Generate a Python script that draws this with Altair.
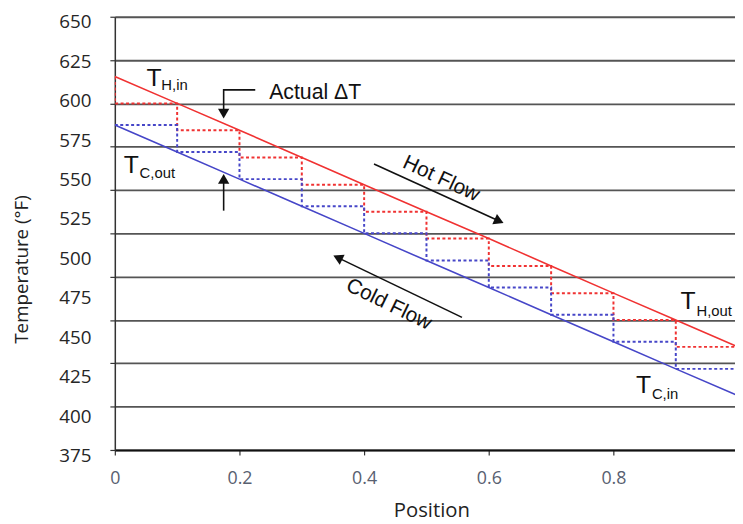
import altair as alt
import pandas as pd

# ---------------- data ----------------
positions = [0.0, 0.1, 0.2, 0.3, 0.4, 0.5, 0.6, 0.7, 0.8, 0.9, 1.0]
hot_temps = [615.5, 600.0, 584.5, 568.8, 553.0, 537.5, 522.0, 506.2, 490.5, 475.0, 459.5]
cold_temps = [587.5, 572.0, 556.3, 540.6, 525.0, 509.3, 493.8, 478.0, 462.5, 446.8, 431.3]

grid_values = [400, 425, 450, 475, 500, 525, 550, 575, 600, 625, 650]
label_values = [375, 400, 425, 450, 475, 500, 525, 550, 575, 600, 625, 650]
x_tick_values = [0, 0.2, 0.4, 0.6, 0.8]

# annotation texts (big "T" plus subscript)
sym_text = ["T", "T", "T", "T"]
sym_x = [0.0508, 0.0143, 0.9077, 0.8363]
sym_y = [610.0, 559.8, 481.1, 433.1]
sub_text = ["H,in", "C,out", "H,out", "C,in"]
sub_x = [0.0746, 0.0397, 0.9331, 0.8617]
sub_y = [607.8, 557.0, 477.6, 429.7]

flow_text = ["Hot Flow", "Cold Flow"]
flow_x = [0.5237, 0.4396]
flow_y = [556.4, 483.9]
flow_angle = [25, 26]

dt_text = ["Actual \u0394T"]
dt_x = [0.2476]
dt_y = [602.6]

# arrow shafts
arrow_id = ["down", "down", "down", "up", "up", "hot", "hot", "cold", "cold"]
arrow_ord = [0, 1, 2, 0, 1, 0, 1, 0, 1]
arrow_x = [0.2253, 0.1746, 0.1746, 0.1746, 0.1746, 0.4158, 0.6165, 0.5570, 0.3577]
arrow_y = [607.8, 607.8, 594.0, 538.1, 556.0, 565.0, 532.1, 476.5, 511.0]

# arrow heads
head_x = [0.1746, 0.1746, 0.6165, 0.3577]
head_y = [594.1, 556.4, 532.1, 511.0]
head_angle = [90, 270, 24.4, 205.7]

# ---------------- tables ----------------
hot_df = pd.DataFrame({"pos": positions, "T": hot_temps})
cold_df = pd.DataFrame({"pos": positions, "T": cold_temps})
lab_df = pd.DataFrame({"pos": [0.0] * len(label_values), "lab": label_values})
sym_df = pd.DataFrame({"pos": sym_x, "T": sym_y, "txt": sym_text})
sub_df = pd.DataFrame({"pos": sub_x, "T": sub_y, "txt": sub_text})
flow_df = pd.DataFrame({"pos": flow_x, "T": flow_y, "txt": flow_text, "ang": flow_angle})
dt_df = pd.DataFrame({"pos": dt_x, "T": dt_y, "txt": dt_text})
arrow_df = pd.DataFrame({"pos": arrow_x, "T": arrow_y, "id": arrow_id, "ord": arrow_ord})
head_df = pd.DataFrame({"pos": head_x, "T": head_y, "ang": head_angle})

RED = "#f03232"
BLUE = "#4646c8"
LABEL_FONT = "Open Sans"
ANNO_FONT = "Liberation Sans"

x_scale = alt.Scale(domain=[0, 0.995], nice=False, zero=False)
y_scale = alt.Scale(domain=[400, 650], nice=False, zero=False)

x_axis = alt.Axis(
    values=x_tick_values, format="~g", grid=False,
    domainColor="#111111", domainWidth=2,
    tickColor="#333333", tickSize=5, tickWidth=1.2,
    labelFont=LABEL_FONT, labelFontSize=18, labelColor="#586070",
    labelPadding=15, labelFlush=False,
    title="Position", titleFont=LABEL_FONT, titleFontSize=20.5,
    titleFontWeight="normal", titleColor="#222222",
    titleX=320, titleY=67, titleBaseline="alphabetic", titleAlign="center",
)
y_axis = alt.Axis(
    values=grid_values, labels=False, grid=True,
    gridColor="#555555", gridWidth=1.8,
    domainColor="#333333", domainWidth=1.5,
    tickColor="#333333", tickSize=5, tickWidth=1.2,
    title="Temperature (\u00b0F)", titleFont=LABEL_FONT, titleFontSize=19,
    titleFontWeight="normal", titleColor="#222222",
    titleAngle=270, titleX=-88, titleY=255,
    titleBaseline="alphabetic", titleAlign="center",
)

X = alt.X("pos:Q", scale=x_scale, axis=x_axis)
Y = alt.Y("T:Q", scale=y_scale, axis=y_axis)

hot_steps = alt.Chart(hot_df).mark_line(
    color=RED, strokeWidth=2, strokeDash=[3, 2.5], interpolate="step-before", clip=True
).encode(x=X, y=Y)
cold_steps = alt.Chart(cold_df).mark_line(
    color=BLUE, strokeWidth=2, strokeDash=[3, 2.5], interpolate="step-after", clip=True
).encode(x=X, y=Y)
hot_line = alt.Chart(hot_df).mark_line(color=RED, strokeWidth=1.6, clip=True).encode(x=X, y=Y)
cold_line = alt.Chart(cold_df).mark_line(color=BLUE, strokeWidth=1.6, clip=True).encode(x=X, y=Y)

arrows = alt.Chart(arrow_df).mark_line(color="#111111", strokeWidth=1.6).encode(
    x=X, y=Y, detail="id:N", order="ord:Q"
)
heads = alt.Chart(head_df).mark_point(
    shape="triangle-right", filled=True, color="#111111", opacity=1, size=130
).encode(x=X, y=Y, angle=alt.Angle("ang:Q", scale=None))

sym = alt.Chart(sym_df).mark_text(
    font=ANNO_FONT, fontSize=25, align="left", baseline="alphabetic", color="#111111"
).encode(x=X, y=Y, text="txt:N")
sub = alt.Chart(sub_df).mark_text(
    font=ANNO_FONT, fontSize=15, align="left", baseline="alphabetic", color="#111111"
).encode(x=X, y=Y, text="txt:N")
flow = alt.Chart(flow_df).mark_text(
    font=ANNO_FONT, fontSize=21, align="center", baseline="middle", color="#111111"
).encode(x=X, y=Y, text="txt:N", angle=alt.Angle("ang:Q", scale=None))
dt = alt.Chart(dt_df).mark_text(
    font=ANNO_FONT, fontSize=21.5, align="left", baseline="alphabetic", color="#111111"
).encode(x=X, y=Y, text="txt:N")

data_layers = alt.layer(hot_steps, cold_steps, hot_line, cold_line, arrows, heads, sym, sub, flow, dt)

label_axis = alt.Axis(
    orient="left", values=label_values, ticks=False, domain=False, grid=False,
    labelFont=LABEL_FONT, labelFontSize=19, labelColor="#262626",
    labelPadding=24, labelAlign="right", labelBaseline="middle", title=None,
)
labels_layer = alt.Chart(lab_df).mark_point(opacity=0).encode(
    x=X,
    y=alt.Y("lab:Q", scale=alt.Scale(domain=[375, 650], range=[444, 5], nice=False, zero=False),
            axis=label_axis),
)

chart = alt.layer(data_layers, labels_layer).resolve_scale(y="independent").properties(
    width=627, height=438,
    padding={"left": 108, "top": 6, "right": 0, "bottom": 72},
    autosize=alt.AutoSizeParams(type="none"),
).configure_view(fill="#c0c0c0", stroke=None).configure(background="white")

chart.save("out.html", embed_options={"renderer": "svg", "actions": False})
